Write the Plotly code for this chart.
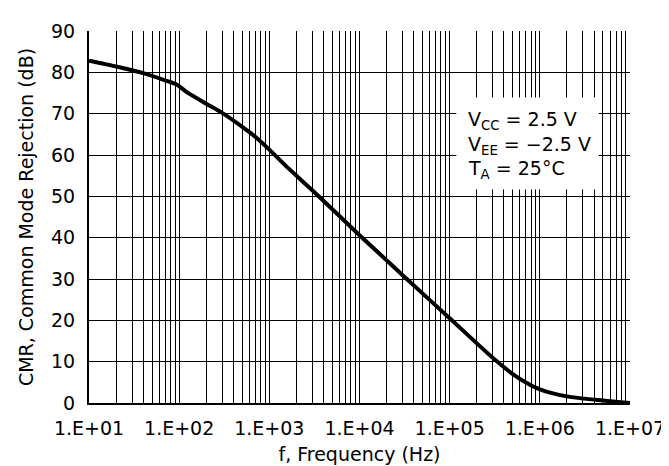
import plotly.graph_objects as go

# Data
freq_hz = [10, 20, 40, 71, 94.4, 121.6, 199.5, 293.8, 501, 708, 1000, 1585, 3162,
           10000, 31623, 100000, 316228, 501187, 707946, 1000000,
           1995262, 5011872, 10000000]
cmr_db = [82.8, 81.4, 79.8, 78.0, 77.0, 75.2, 72.4, 70.3, 66.8, 64.3, 61.3, 57.0, 51.0,
          40.6, 30.5, 20.5, 10.5, 7.0, 4.9, 3.3,
          1.6, 0.6, 0.0]

x_tickvals = [1e1, 1e2, 1e3, 1e4, 1e5, 1e6, 1e7]
x_ticktext = ["1.E+01", "1.E+02", "1.E+03", "1.E+04", "1.E+05", "1.E+06", "1.E+07"]
y_tickvals = [0, 10, 20, 30, 40, 50, 60, 70, 80, 90]
minor_vals = [m * 10 ** d for d in range(1, 7) for m in range(2, 10)]

annot_lines = ["V<sub>CC</sub> = 2.5 V", "V<sub>EE</sub> = \u22122.5 V", "T<sub>A</sub> = 25\u00b0C"]

FONT = "DejaVu Sans"
FS = 19

fig = go.Figure()
fig.add_trace(go.Scatter(
    x=freq_hz, y=cmr_db, mode="lines",
    line=dict(color="black", width=4, shape="spline", smoothing=0.7),
    showlegend=False, hoverinfo="skip"))

fig.update_layout(
    width=669, height=466,
    margin=dict(l=81, r=40, t=14, b=67),
    paper_bgcolor="white", plot_bgcolor="white",
    font=dict(family=FONT, size=FS, color="black"),
)

fig.update_xaxes(
    type="log", range=[1, 7],
    tickvals=x_tickvals, ticktext=x_ticktext,
    showgrid=True, gridcolor="black", gridwidth=1,
    minor=dict(tickvals=minor_vals, showgrid=True, gridcolor="black", gridwidth=1, ticks=""),
    showline=True, linecolor="black", linewidth=2,
    ticks="", ticklabelstandoff=7,
    title=dict(text="f, Frequency (Hz)", standoff=10, font=dict(size=FS)),
    zeroline=False,
)
fig.update_yaxes(
    range=[0, 90], tickvals=y_tickvals,
    showgrid=True, gridcolor="black", gridwidth=1,
    showline=True, linecolor="black", linewidth=2,
    ticks="", ticklabelstandoff=8,
    title=dict(text="CMR, Common Mode Rejection (dB)", standoff=12, font=dict(size=FS)),
    zeroline=False,
)

# white box behind the conditions text
fig.add_shape(type="rect", xref="paper", yref="paper",
              x0=0.679, x1=0.942, y0=0.574, y1=0.821,
              fillcolor="white", line=dict(width=0), layer="above")

ys_px = [107, 133, 158]
for txt, ypx in zip(annot_lines, ys_px):
    fig.add_annotation(text=txt, xref="paper", yref="paper",
                       x=0.697, y=(399 - ypx) / 384.7,
                       xanchor="left", yanchor="middle", showarrow=False,
                       font=dict(family=FONT, size=FS, color="black"))

fig.write_html("out.html")
